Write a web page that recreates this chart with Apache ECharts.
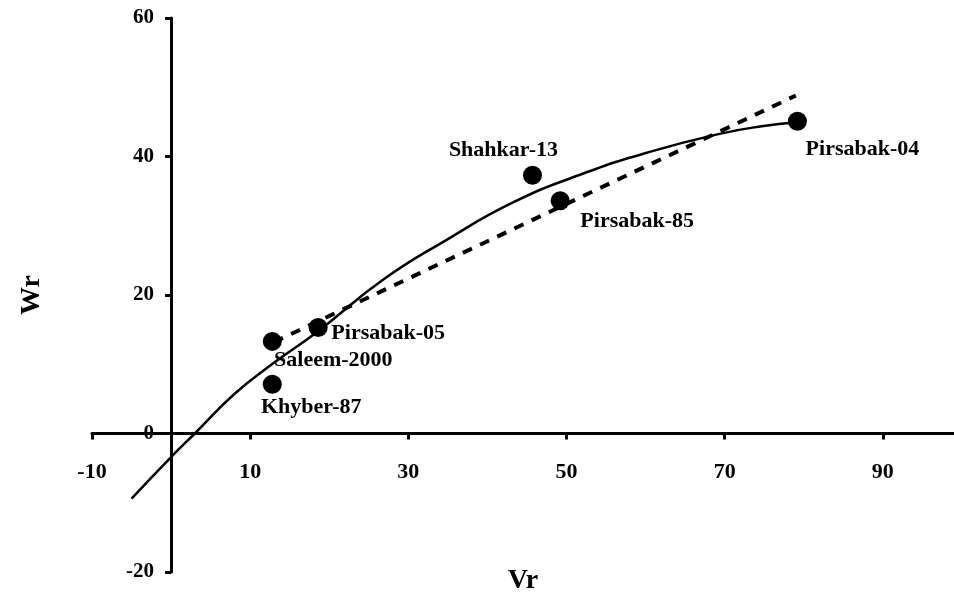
<!DOCTYPE html>
<html>
<head>
<meta charset="utf-8">
<script src="https://cdn.jsdelivr.net/npm/echarts@6/dist/echarts.min.js"></script>
<style>html,body{margin:0;padding:0;background:#fff;}#c{width:954px;height:594px;}</style>
</head>
<body>
<div id="c"></div>
<script>
// Genotype points
const ptNames = ['Pirsabak-04', 'Shahkar-13', 'Pirsabak-85', 'Pirsabak-05', 'Saleem-2000', 'Khyber-87'];
const ptVr = [79.2, 45.7, 49.2, 18.6, 12.8, 12.8];
const ptWr = [45.1, 37.3, 33.6, 15.3, 13.3, 7.1];
// Solid fitted curve
const curveVr = [-5, 0, 3, 8, 13, 18.5, 26.8, 34.9, 43.3, 51.8, 60.3, 69.5, 74.9, 78.8];
const curveWr = [-9.4, -3.4, 0, 5.7, 10.2, 14.7, 22.2, 28.0, 33.4, 37.4, 40.6, 43.3, 44.4, 44.9];
// Dotted regression line
const lineVr = [13, 79];
const lineWr = [13.2, 48.8];

const labelOffsets = {
  'Pirsabak-04': [65, 28], 'Shahkar-13': [-29, -25], 'Pirsabak-85': [77, 20],
  'Pirsabak-05': [70, 6], 'Saleem-2000': [61, 19], 'Khyber-87': [39, 23]
};
const FONT = 'Liberation Serif';

const W = 954, H = 594;
const G = { left: 92, right: 0, top: 18, bottom: 22 };
const X_MIN = -10, X_MAX = 99, Y_MIN = -20, Y_MAX = 60;
// shift axes so they cross at the origin
const gw = W - G.left - G.right, gh = H - G.top - G.bottom;
const yAxisShift = gw * (0 - X_MIN) / (X_MAX - X_MIN);
const xAxisShift = gh * (0 - Y_MIN) / (Y_MAX - Y_MIN);

const chart = echarts.init(document.getElementById('c'));
const axisLine = { onZero: false, lineStyle: { color: '#000', width: 3 } };
chart.setOption({
  animation: false,
  backgroundColor: '#fff',
  grid: Object.assign({ containLabel: false, outerBoundsMode: 'none' }, G),
  xAxis: {
    type: 'value', min: X_MIN, max: X_MAX, interval: 20, position: 'bottom', offset: -xAxisShift,
    name: 'Vr', nameLocation: 'middle', nameGap: 133,
    nameTextStyle: { fontFamily: FONT, fontWeight: 'bold', fontSize: 28, color: '#000', verticalAlign: 'top' },
    axisLine: axisLine,
    axisTick: { show: true, length: 6, lineStyle: { color: '#000', width: 3 } },
    axisLabel: { margin: 28, showMaxLabel: false, fontFamily: FONT, fontWeight: 'bold', fontSize: 22, color: '#000' },
    splitLine: { show: false }
  },
  yAxis: {
    type: 'value', min: Y_MIN, max: Y_MAX, interval: 20, position: 'left', offset: -yAxisShift,
    name: 'Wr', nameLocation: 'middle', nameGap: 125,
    nameTextStyle: { fontFamily: FONT, fontWeight: 'bold', fontSize: 28, color: '#000' },
    axisLine: axisLine,
    axisTick: { show: true, length: 6, lineStyle: { color: '#000', width: 3 } },
    axisLabel: { margin: 17, fontFamily: FONT, fontWeight: 'bold', fontSize: 21, color: '#000' },
    splitLine: { show: false }
  },
  series: [
    {
      type: 'line', smooth: true, showSymbol: false, z: 2,
      data: curveVr.map((v, i) => [v, curveWr[i]]),
      lineStyle: { color: '#000', width: 2.5, opacity: 1 }
    },
    {
      type: 'line', showSymbol: false, z: 2,
      data: lineVr.map((v, i) => [v, lineWr[i]]),
      lineStyle: { color: '#000', width: 4, type: [10, 9], opacity: 1 }
    },
    {
      type: 'scatter', symbol: 'circle', symbolSize: 19, z: 5,
      itemStyle: { color: '#000', opacity: 1 },
      data: ptNames.map((n, i) => ({
        name: n, value: [ptVr[i], ptWr[i]],
        label: {
          show: true, position: 'inside', offset: labelOffsets[n], formatter: n,
          fontFamily: FONT, fontWeight: 'bold', fontSize: 22, color: '#000'
        }
      }))
    }
  ]
});
</script>
</body>
</html>
